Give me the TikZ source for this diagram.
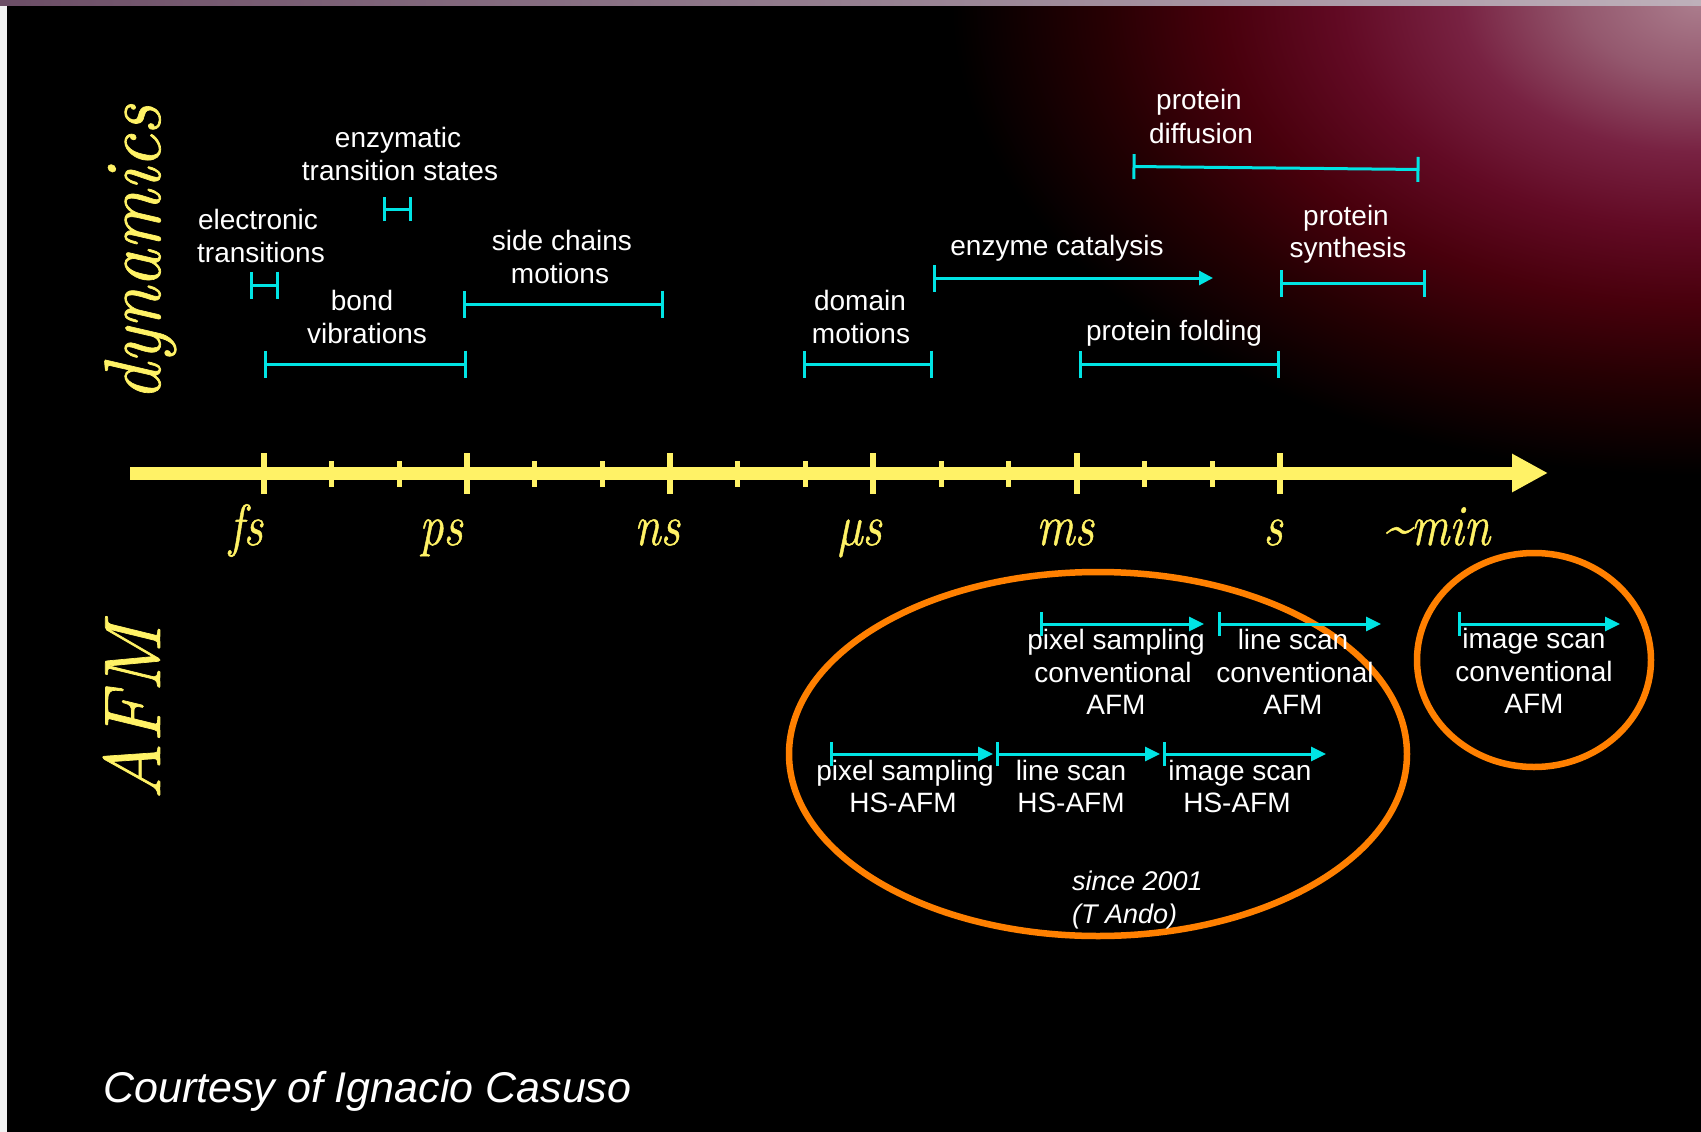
\documentclass[tikz,border=0pt]{standalone}
\usepackage{fontspec}
\usepackage{graphicx}
\usetikzlibrary{arrows.meta}
\newfontfamily\arialf{Liberation Sans}
\newfontfamily\boldit{Latin Modern Roman}[FakeBold=0.9]
\definecolor{axyellow}{RGB}{255,242,102}
\definecolor{brcyan}{RGB}{0,228,228}
\definecolor{ovorange}{RGB}{255,128,0}
\definecolor{glowA}{RGB}{172,126,142}
\definecolor{glowB}{RGB}{148,88,110}
\definecolor{glowC}{RGB}{120,34,66}
\definecolor{glowD}{RGB}{98,10,36}
\definecolor{glowE}{RGB}{72,0,12}
\definecolor{glowF}{RGB}{38,0,3}
\definecolor{topL}{RGB}{108,78,102}
\definecolor{topR}{RGB}{190,176,186}
\pgfdeclareradialshading{glow}{\pgfpoint{0bp}{0bp}}{color(0bp)=(glowA); color(4bp)=(glowB); color(8bp)=(glowC); color(12bp)=(glowD); color(16bp)=(glowE); color(20bp)=(glowF); color(25bp)=(black); color(50bp)=(black)}
\newcommand{\axtxt}[1]{\scalebox{0.83}[1]{\boldit\fontsize{58}{58}\selectfont\itshape #1}}
\newcommand{\sidetxt}[2]{\scalebox{#1}[1]{\boldit\fontsize{80}{80}\selectfont\itshape #2}}
\begin{document}
\begin{tikzpicture}[x=1pt,y=-1pt,
  lbl/.style={font=\arialf\fontsize{28}{33}\selectfont, text=white, inner sep=0pt, anchor=base},
  itlbl/.style={font=\arialf\itshape\fontsize{27}{33}\selectfont, text=white, inner sep=0pt, anchor=base west},
  axlab/.style={text=axyellow, inner sep=0pt, anchor=base},
  brk/.style={brcyan, line width=3pt, {Bar[width=27pt]}-{Bar[width=27pt]}},
  brarrow/.style={brcyan, line width=3pt, {Bar[width=27pt]}-{Triangle[length=14pt,width=14pt]}},
  afmarrow/.style={brcyan, line width=3pt, {Bar[width=24pt]}-{Triangle[length=15pt,width=14pt]}},
  majtick/.style={axyellow, line width=6pt},
  mintick/.style={axyellow, line width=5pt},
  oval/.style={ovorange, line width=6.5pt}]
\useasboundingbox (0,0) rectangle (1701,1132);
% background
\fill[black] (0,0) rectangle (1701,1132);
\begin{scope}
  \clip (0,0) rectangle (1701,1132);
  \shade[shading=glow] (1701,0) ellipse [x radius=750pt, y radius=475pt];
\end{scope}
\fill[gray!10] (0,0) rectangle (7,1132);
\shade[left color=topL, right color=topR] (0,0) rectangle (1701,6);

% axis
\coordinate (axS) at (130,473);
\coordinate (axE) at (1548,473);
\draw[axyellow, line width=13pt, -{Triangle[length=36pt,width=36pt]}] (axS) -- (axE);
\foreach \i/\x in {1/263.5,2/466.8,3/670.1,4/873.4,5/1076.7,6/1280.0}{
  \coordinate (MT\i a) at (\x,453);
  \coordinate (MT\i b) at (\x,494);
  \draw[majtick] (MT\i a) -- (MT\i b);
}
\foreach \i/\x in {1/331.3,2/399.0,3/534.6,4/602.3,5/737.9,6/805.6,7/941.2,8/1008.9,9/1144.5,10/1212.2}{
  \coordinate (mt\i a) at (\x,461);
  \coordinate (mt\i b) at (\x,487);
  \draw[mintick] (mt\i a) -- (mt\i b);
}
\node[axlab] (lfs) at (246,545) {\axtxt{fs}};
\node[axlab] (lps) at (441,545) {\axtxt{ps}};
\node[axlab] (lns) at (657,545) {\axtxt{ns}};
\node[axlab] (lus) at (860,545) {\axtxt{µs}};
\node[axlab] (lms) at (1065,545) {\axtxt{ms}};
\node[axlab] (ls) at (1273,545) {\axtxt{s}};
\node[axlab] (lmin) at (1437,545) {\axtxt{\textasciitilde min}};

% side titles
\node[axlab, rotate=90] (dyn) at (160,253) {\sidetxt{0.93}{dynamics}};
\node[axlab, rotate=90] (afm) at (160,712) {\sidetxt{0.98}{AFM}};

% dynamics labels
\node[lbl] (enz1) at (398,147) {enzymatic};
\node[lbl] (enz2) at (400,180) {transition states};
\node[lbl] (elec1) at (258,229) {electronic};
\node[lbl] (elec2) at (261,262) {transitions};
\node[lbl] (bond1) at (362,310) {bond};
\node[lbl] (bond2) at (367,343) {vibrations};
\node[lbl] (side1) at (562,250) {side chains};
\node[lbl] (side2) at (560,283) {motions};
\node[lbl] (dom1) at (860,310) {domain};
\node[lbl] (dom2) at (861,343) {motions};
\node[lbl] (enzc) at (1057,255) {enzyme catalysis};
\node[lbl] (fold) at (1174,340) {protein folding};
\node[lbl] (diff1) at (1199,110) {protein};
\node[lbl] (diff2) at (1201,143) {diffusion};
\node[lbl] (syn1) at (1346,225) {protein};
\node[lbl] (syn2) at (1348,257) {synthesis};

% dynamics brackets
\coordinate (bEnzA) at (383,209);  \coordinate (bEnzB) at (412,209);
\coordinate (bEleA) at (250,285);  \coordinate (bEleB) at (279,285);
\coordinate (bBonA) at (263.5,364); \coordinate (bBonB) at (466.8,364);
\coordinate (bSidA) at (463,304);  \coordinate (bSidB) at (664,304);
\coordinate (bDomA) at (803,364);  \coordinate (bDomB) at (933,364);
\coordinate (bCatA) at (933,278);  \coordinate (bCatB) at (1213,278);
\coordinate (bFolA) at (1079,364); \coordinate (bFolB) at (1280,364);
\coordinate (bDifA) at (1132.5,166.5); \coordinate (bDifB) at (1419.5,169.5);
\coordinate (bSynA) at (1280,283); \coordinate (bSynB) at (1426,283);
\draw[brk, {Bar[width=24pt]}-{Bar[width=24pt]}] (bEnzA) -- (bEnzB);
\draw[brk] (bEleA) -- (bEleB);
\draw[brk] (bBonA) -- (bBonB);
\draw[brk] (bSidA) -- (bSidB);
\draw[brk] (bDomA) -- (bDomB);
\draw[brarrow] (bCatA) -- (bCatB);
\draw[brk] (bFolA) -- (bFolB);
\draw[brk, {Bar[width=25pt]}-{Bar[width=25pt]}] (bDifA) -- (bDifB);
\draw[brk] (bSynA) -- (bSynB);

% AFM ovals
\draw[oval] (1098,754) ellipse [x radius=309pt, y radius=182pt];
\draw[oval] (1534,660) ellipse [x radius=117pt, y radius=107pt];

% conventional AFM row
\coordinate (cPxA) at (1040,624); \coordinate (cPxB) at (1204,624);
\coordinate (cLnA) at (1218,624); \coordinate (cLnB) at (1381,624);
\coordinate (cImA) at (1458,624); \coordinate (cImB) at (1620,624);
\draw[afmarrow] (cPxA) -- (cPxB);
\draw[afmarrow] (cLnA) -- (cLnB);
\draw[afmarrow] (cImA) -- (cImB);
\node[lbl] (cpx1) at (1116,649) {pixel sampling};
\node[lbl] (cpx2) at (1113,682) {conventional};
\node[lbl] (cpx3) at (1116,714) {AFM};
\node[lbl] (cln1) at (1293,649) {line scan};
\node[lbl] (cln2) at (1295,682) {conventional};
\node[lbl] (cln3) at (1293,714) {AFM};
\node[lbl] (cim1) at (1534,648) {image scan};
\node[lbl] (cim2) at (1534,681) {conventional};
\node[lbl] (cim3) at (1534,713) {AFM};

% HS-AFM row
\coordinate (hPxA) at (830,754);  \coordinate (hPxB) at (993,754);
\coordinate (hLnA) at (996,754);  \coordinate (hLnB) at (1160,754);
\coordinate (hImA) at (1163,754); \coordinate (hImB) at (1326,754);
\draw[afmarrow] (hPxA) -- (hPxB);
\draw[afmarrow] (hLnA) -- (hLnB);
\draw[afmarrow] (hImA) -- (hImB);
\node[lbl] (hpx1) at (905,780) {pixel sampling};
\node[lbl] (hpx2) at (903,812) {HS-AFM};
\node[lbl] (hln1) at (1071,780) {line scan};
\node[lbl] (hln2) at (1071,812) {HS-AFM};
\node[lbl] (him1) at (1240,780) {image scan};
\node[lbl] (him2) at (1237,812) {HS-AFM};
\node[itlbl] (since) at (1072,890) {since 2001};
\node[itlbl] (ando) at (1072,923) {(T Ando)};

% credit
\node[font=\arialf\itshape\fontsize{43}{50}\selectfont, text=white, inner sep=0pt, anchor=base west] (credit) at (103,1102) {Courtesy of Ignacio Casuso};
\end{tikzpicture}
\end{document}
